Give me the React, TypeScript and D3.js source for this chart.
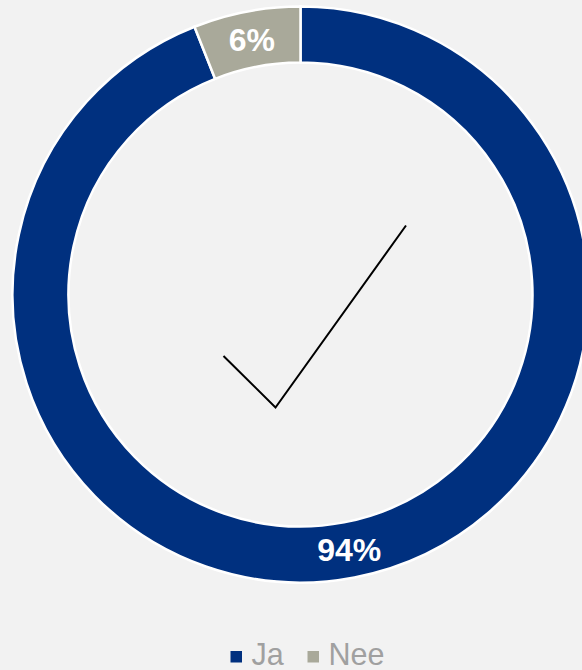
import React from 'react';
import * as d3 from 'd3';

const categories = ['Ja', 'Nee'];
const values = [94, 6];
const labels = ['94%', '6%'];
const colors = ['#00307F', '#A9A99A'];

const width = 582;
const height = 670;
const cx = 300.5;
const cy = 294.5;
const outerR = 288;
const innerR = 232;

const App = () => {
  const pie = d3.pie<number>().sort(null).value(d => d);
  const arcs = pie(values);
  const arc = d3.arc<d3.PieArcDatum<number>>().innerRadius(innerR).outerRadius(outerR);
  const labelArc = d3.arc<d3.PieArcDatum<number>>().innerRadius(260).outerRadius(260);

  // check mark inside the ring
  const check = d3.line()([[223.5, 356], [275.5, 407.5], [406, 225.5]]);

  const legendX = d3.scalePoint().domain(categories).range([230.5, 307.5]);

  return (
    <svg width={width} height={height} style={{ position: 'absolute', left: 0, top: 0 }}>
      <rect width={width} height={height} fill="#F2F2F2" />
      <g transform={`translate(${cx}, ${cy})`}>
        {arcs.map((a, i) => (
          <path key={i} d={arc(a) || ''} fill={colors[i]} stroke="#FFFFFF" strokeWidth={2.5} />
        ))}
        {arcs.map((a, i) => {
          const [x, y] = labelArc.centroid(a);
          return (
            <text key={i} x={x} y={y} dy="0.36em" textAnchor="middle" fill="#FFFFFF"
              fontFamily="Liberation Sans, Arial, sans-serif" fontWeight="bold"
              fontSize={i === 0 ? 32 : 32}>
              {labels[i]}
            </text>
          );
        })}
      </g>
      <path d={check || ''} fill="none" stroke="#000000" strokeWidth={2} />
      <g>
        {categories.map((c, i) => (
          <g key={c} transform={`translate(${legendX(c)}, 0)`}>
            <rect x={0} y={651} width={11.5} height={11.5} fill={colors[i]} />
            <text x={21} y={665} fill="#A0A0A0" fontFamily="Liberation Sans, Arial, sans-serif" fontSize={30.5}>
              {c}
            </text>
          </g>
        ))}
      </g>
    </svg>
  );
};

export default App;
